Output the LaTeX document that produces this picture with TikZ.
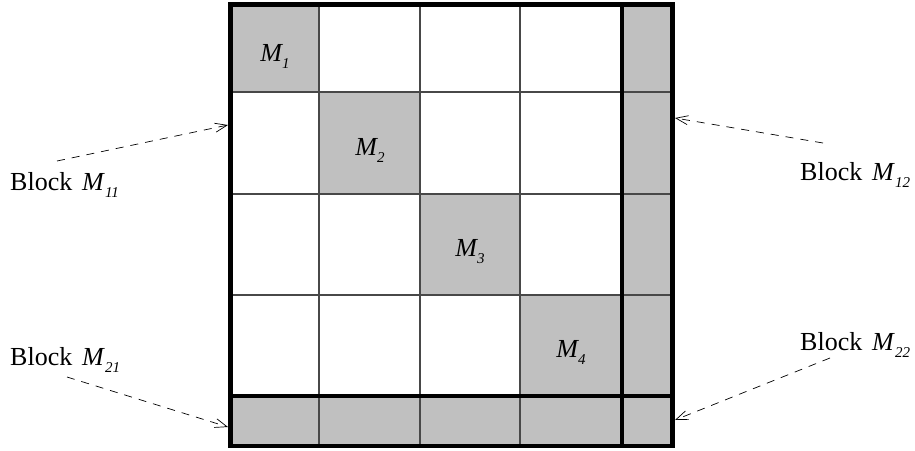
\documentclass[tikz,border=0pt]{standalone}
\usepackage{fontspec}
\setmainfont{Liberation Serif}
\usetikzlibrary{arrows.meta}
\definecolor{cellgray}{HTML}{C0C0C0}
\definecolor{gridline}{HTML}{484848}
\newcommand\mysub[1]{\raisebox{-0.27em}{\fontsize{15}{15}\selectfont\itshape #1}}
\tikzset{
  thinline/.style={draw=gridline, line width=1.1pt},
  thickline/.style={draw=black, line width=4.5pt},
  mlabel/.style={anchor=base, inner sep=0pt, font=\fontsize{26}{30}\selectfont\itshape},
  blocklabel/.style={anchor=base west, inner sep=0pt, font=\fontsize{26}{30}\selectfont},
  pointer/.style={dashed, dash pattern=on 8pt off 7pt, line width=0.7pt, -{Straight Barb[length=12pt,width=9pt,line width=0.7pt]}}
}
\begin{document}
\begin{tikzpicture}[x=1pt,y=-1pt]
\useasboundingbox (0,0) rectangle (915,450);
% gray fills
\fill[cellgray] (230,5) rectangle (319,92);
\fill[cellgray] (319,92) rectangle (420,194);
\fill[cellgray] (420,194) rectangle (520,295);
\fill[cellgray] (520,295) rectangle (622,396);
\fill[cellgray] (622,5) rectangle (672,447);
\fill[cellgray] (230,396) rectangle (672,447);
% thin grid
\foreach \x in {319,420,520} \draw[thinline] (\x,5) -- (\x,447);
\foreach \y in {92,194,295} \draw[thinline] (230,\y) -- (672,\y);
% thick lines
\draw[thickline] (622,5) -- (622,447);
\draw[thickline] (230,396) -- (672,396);
\draw[thickline] (230.3,4.7) rectangle (672.3,446);
% cell labels
\node[mlabel] (m1) at (275,61) {M\mysub{1}};
\node[mlabel] (m2) at (370,155) {M\mysub{2}};
\node[mlabel] (m3) at (470,256) {M\mysub{3}};
\node[mlabel] (m4) at (571,357) {M\mysub{4}};
% block labels
\node[blocklabel] (b11) at (10,190) {Block\hspace{0.38em}\textit{M}\mysub{11}};
\node[blocklabel] (b12) at (800,180) {Block\hspace{0.38em}\textit{M}\mysub{12}};
\node[blocklabel] (b21) at (10,365) {Block\hspace{0.38em}\textit{M}\mysub{21}};
\node[blocklabel] (b22) at (800,350) {Block\hspace{0.38em}\textit{M}\mysub{22}};
% arrow endpoints
\coordinate (s11) at (57,161);
\coordinate (t11) at (228,125);
\coordinate (s12) at (823,143);
\coordinate (t12) at (675,118);
\coordinate (s21) at (67,377);
\coordinate (t21) at (228,427);
\coordinate (s22) at (830,358);
\coordinate (t22) at (675,420);
\draw[pointer] (s11) -- (t11);
\draw[pointer] (s12) -- (t12);
\draw[pointer] (s21) -- (t21);
\draw[pointer] (s22) -- (t22);
\end{tikzpicture}
\end{document}
